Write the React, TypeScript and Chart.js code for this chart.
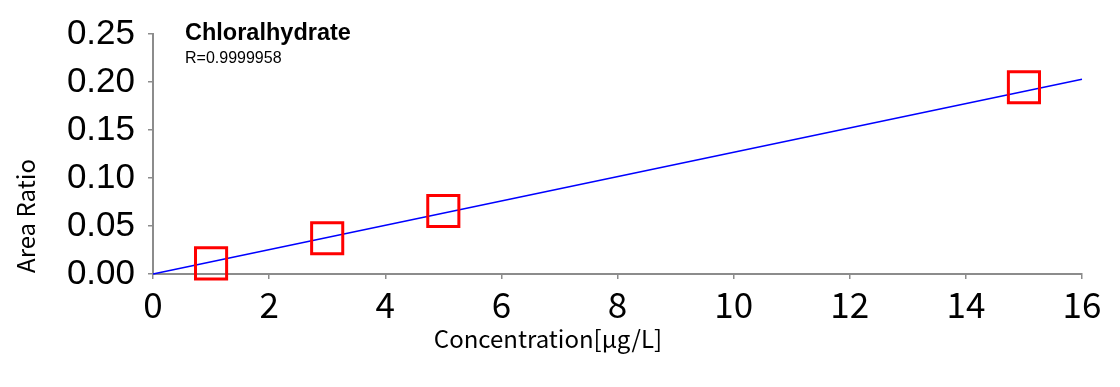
import React, { useEffect, useRef } from "react";
import { Chart, registerables } from "chart.js";

Chart.register(...registerables);

const concentrations = [1, 3, 5, 15];
const areaRatios = [0.0111, 0.0372, 0.0656, 0.1946];
const fitX = [0, 16];
const fitY = [0, 0.2028];
const compoundName = "Chloralhydrate";
const rLabel = "R=0.9999958";
const xTitle = "Concentration[μg/L]";
const yTitle = "Area Ratio";

const tickFont = '"Noto Sans CJK JP", "Noto Sans", sans-serif';
const yTickFont = '"Liberation Sans", Arial, sans-serif';

const labelsPlugin = {
  id: "customLabels",
  afterDraw(chart: any) {
    const ctx = chart.ctx;
    const area = chart.chartArea;
    ctx.save();
    ctx.fillStyle = "#000";
    ctx.font = 'bold 23.5px "Liberation Sans", Arial, sans-serif';
    ctx.textAlign = "left";
    ctx.textBaseline = "alphabetic";
    ctx.fillText(compoundName, area.left + 32, area.top + 6);
    ctx.font = '16px "Liberation Sans", Arial, sans-serif';
    ctx.fillText(rLabel, area.left + 32, area.top + 29);

    ctx.font = `24px ${tickFont}`;
    ctx.textAlign = "center";
    ctx.fillText(xTitle, 548, area.bottom + 74);

    ctx.translate(35, 216);
    ctx.rotate(-Math.PI / 2);
    ctx.fillText(yTitle, 0, 0);
    ctx.restore();
  },
};

export default function App() {
  const ref = useRef<HTMLCanvasElement>(null);
  useEffect(() => {
    if (!ref.current) return;
    const chart = new Chart(ref.current, {
      type: "scatter",
      data: {
        datasets: [
          {
            data: concentrations.map((x, i) => ({ x, y: areaRatios[i] })),
            pointStyle: "rect",
            pointRadius: 22,
            pointBorderWidth: 3,
            pointBorderColor: "#ff0000",
            pointBackgroundColor: "rgba(0,0,0,0)",
            showLine: false,
            clip: false as any,
          },
          {
            data: fitX.map((x, i) => ({ x, y: fitY[i] })),
            showLine: true,
            borderColor: "#0000ff",
            borderWidth: 1.5,
            pointRadius: 0,
            clip: false as any,
          },
        ],
      },
      options: {
        animation: false,
        responsive: false,
        devicePixelRatio: 1,
        layout: { padding: { top: 34, right: 38, bottom: 0, left: 0 } },
        plugins: {
          legend: { display: false },
          tooltip: { enabled: false },
        },
        scales: {
          x: {
            type: "linear",
            min: 0,
            max: 16,
            afterFit: (s: any) => {
              s.height = 113;
            },
            ticks: {
              stepSize: 2,
              color: "#000",
              padding: 5,
              font: { family: tickFont, size: 35 },
            },
            grid: {
              drawOnChartArea: false,
              drawTicks: true,
              tickLength: 5,
              color: "#8c8c8c",
              lineWidth: 1.5,
            },
            border: { color: "#8c8c8c", width: 2 },
          },
          y: {
            type: "linear",
            min: 0,
            max: 0.25,
            afterFit: (s: any) => {
              s.width = 153;
            },
            ticks: {
              stepSize: 0.05,
              color: "#000",
              padding: 13,
              font: { family: yTickFont, size: 35 },
              callback: (v: any) => Number(v).toFixed(2),
            },
            grid: {
              drawOnChartArea: false,
              drawTicks: true,
              tickLength: 5,
              color: "#8c8c8c",
              lineWidth: 1.5,
            },
            border: { color: "#8c8c8c", width: 2 },
          },
        },
      },
      plugins: [labelsPlugin],
    });
    return () => chart.destroy();
  }, []);
  return (
    <div style={{ position: "absolute", left: 0, top: 0, width: 1120, height: 387, background: "#fff" }}>
      <canvas ref={ref} width={1120} height={387} />
    </div>
  );
}
